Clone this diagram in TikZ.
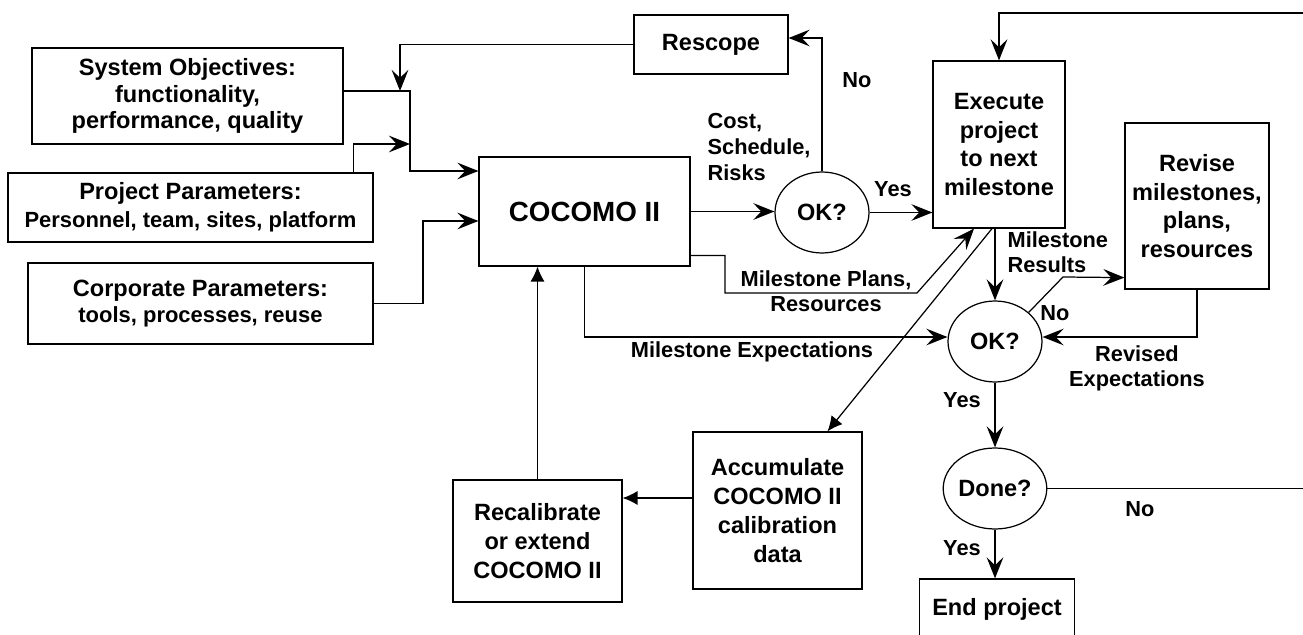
\documentclass[tikz,border=0pt]{standalone}
\usepackage{fontspec}
\setmainfont{Liberation Sans}
\usetikzlibrary{shapes.geometric,arrows.meta}
\begin{document}
\begin{tikzpicture}[x=0.02cm,y=-0.02cm,line width=0.7pt,
    font={\fontsize{13.4}{15.2}\selectfont\bfseries},
    box/.style={draw,rectangle,align=center,inner sep=0pt},
    tall/.style={font={\fontsize{13.4}{16.4}\selectfont\bfseries}},
    decision/.style={draw,ellipse,inner sep=0pt,minimum width=1.88cm,minimum height=1.62cm},
    lbl/.style={inner sep=0pt,font={\fontsize{12.4}{14.2}\selectfont\bfseries}},
    arr/.style={-{Stealth[length=12pt,width=9.5pt,inset=4.5pt]}},
    tri/.style={-{Latex[length=8.5pt,width=8pt]}}]
  \useasboundingbox (0,0) rectangle (1303,635);
  % inputs
  \node[box,minimum width=6.22cm,minimum height=1.92cm] (SysObj) at (187.5,96)
    {System Objectives:\\functionality,\\performance, quality};
  \node[box,minimum width=7.3cm,minimum height=1.38cm] (ProjPar) at (190.5,207.5)
    {Project Parameters:\\[1pt]{\fontsize{12.5}{14}\selectfont Personnel, team, sites, platform}};
  \node[box,minimum width=6.9cm,minimum height=1.62cm] (CorpPar) at (200.5,303.5)
    {Corporate Parameters:\\{\fontsize{12.5}{14}\selectfont tools, processes, reuse}};
  % main boxes
  \node[box,minimum width=4.22cm,minimum height=2.18cm,font={\fontsize{15.8}{18}\selectfont\bfseries}]
    (COCOMO) at (584.5,211.5) {COCOMO II};
  \node[box,minimum width=3.08cm,minimum height=1.18cm] (Rescope) at (711,44.5) {Rescope};
  \node[decision] (OK1) at (822,212.5) {OK?};
  \node[box,tall,minimum width=2.64cm,minimum height=3.34cm] (Execute) at (999,144.5)
    {Execute\\project\\to next\\milestone};
  \node[box,tall,minimum width=2.88cm,minimum height=3.32cm] (Revise) at (1197,206)
    {Revise\\milestones,\\plans,\\resources};
  \node[decision] (OK2) at (995,341.5) {OK?};
  \node[decision] (Done) at (995,488.5) {Done?};
  \node[box,minimum width=3.1cm,minimum height=1.22cm] (End) at (997,609.5) {End project};
  \node[box,tall,minimum width=3.38cm,minimum height=3.14cm] (Accum) at (777.5,510.5)
    {Accumulate\\COCOMO II\\calibration\\data};
  \node[box,tall,minimum width=3.38cm,minimum height=2.44cm] (Recal) at (537.5,541)
    {Recalibrate\\or extend\\COCOMO II};
  % labels
  \node[lbl,align=left,anchor=west,font={\fontsize{12.4}{15}\selectfont\bfseries}]
    (lCost) at (707,147) {Cost,\\Schedule,\\Risks};
  \node[lbl] (lNo1) at (857,80) {No};
  \node[lbl] (lYes1) at (893,189) {Yes};
  \node[lbl,align=center] (lPlans) at (826,291) {Milestone Plans,\\Resources};
  \node[lbl] (lExp) at (752,352) {Milestone Expectations};
  \node[lbl,align=left,anchor=west] (lRes) at (1007,252) {Milestone\\Results};
  \node[lbl] (lNo2) at (1055,313) {No};
  \node[lbl,align=center] (lRev) at (1137,368) {Revised\\Expectations};
  \node[lbl] (lYes2) at (962,400) {Yes};
  \node[lbl] (lYes3) at (962,548) {Yes};
  \node[lbl] (lNo3) at (1140,509) {No};
  % connectors
  \draw[arr] ([yshift=0.1cm]SysObj.east) -| (410,171) -- (COCOMO.west |- 0,171);
  \draw[arr] (Rescope.west) -| (400,91);
  \draw[arr] ([xshift=-0.4cm]ProjPar.north east) |- (410,144);
  \draw[arr] (CorpPar.east) -| (423,221) -- (COCOMO.west |- 0,221);
  \draw[arr] (COCOMO.east) -- (COCOMO.east -| OK1.west);
  \draw[arr] (OK1.north) |- ([yshift=0.13cm]Rescope.east);
  \draw[arr] (OK1.east) -- (OK1.east -| Execute.west);
  \draw[arr] (Done.east) -| (1315,13) -| (Execute.north);
  \draw[arr] ([yshift=0.22cm]COCOMO.south east) -| (725,293) -- (917,293)
    -- ([xshift=-0.5cm]Execute.south);
  \draw[arr] (COCOMO.south) |- ([yshift=0.09cm]OK2.west);
  \draw[tri] ([xshift=-0.14cm]Execute.south) -- ([xshift=1cm]Accum.north);
  \draw[arr] (OK2.north |- Execute.south) -- (OK2.north);
  \draw[arr] (OK2.north east) -- (1063,277) -- ([yshift=0.24cm]Revise.south west);
  \draw[arr] (Revise.south) |- ([yshift=0.09cm]OK2.east);
  \draw[arr] (OK2.south) -- (Done.north);
  \draw[arr] (Done.south) -- (Done.south |- End.north);
  \draw[tri] ([yshift=0.25cm]Accum.west) -- ([yshift=0.25cm]Accum.west -| Recal.east);
  \draw[tri] (Recal.north) -- (Recal.north |- COCOMO.south);
\end{tikzpicture}
\end{document}
